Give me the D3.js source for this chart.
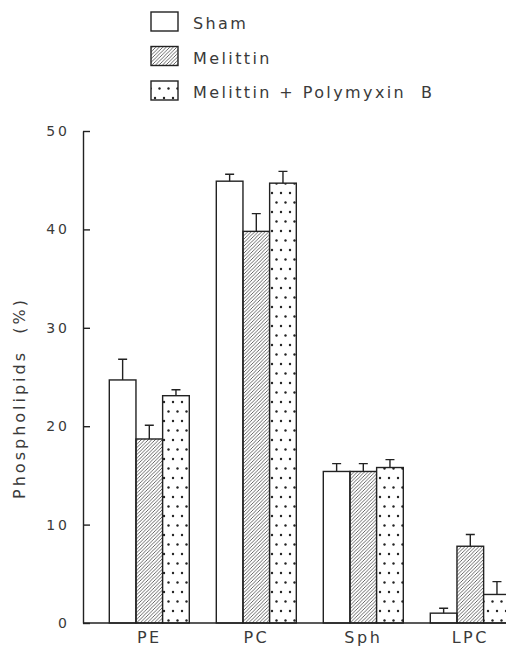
<!DOCTYPE html>
<html>
<head>
<meta charset="utf-8">
<script src="https://cdn.jsdelivr.net/npm/d3@7"></script>
<style>
  body { margin: 0; background: #fff; }
  svg text { font-family: "DejaVu Sans", sans-serif; fill: #3a3a3a; }
</style>
</head>
<body>
<div id="chart"></div>
<script>
// Data
var categories = ["PE", "PC", "Sph", "LPC"];
var seriesNames = ["Sham", "Melittin", "Melittin + Polymyxin  B"];
var shamValues = [24.7, 44.9, 15.4, 1.0];
var shamErrors = [2.1, 0.7, 0.8, 0.5];
var melittinValues = [18.7, 39.8, 15.4, 7.8];
var melittinErrors = [1.4, 1.8, 0.8, 1.2];
var polymyxinValues = [23.1, 44.7, 15.8, 2.9];
var polymyxinErrors = [0.6, 1.2, 0.8, 1.3];
var yTicks = [0, 10, 20, 30, 40, 50];

var seriesValues = [shamValues, melittinValues, polymyxinValues];
var seriesErrors = [shamErrors, melittinErrors, polymyxinErrors];
var fills = ["#fff", "url(#hatch)", "url(#dots)"];

const width = 506;
const height = 647;

d3.select("#chart").selectAll("*").remove();

var svg = d3.select("#chart").append("svg")
    .attr("width", width)
    .attr("height", height);

// Patterns for the bar fills
var defs = svg.append("defs");
defs.append("pattern")
    .attr("id", "hatch")
    .attr("patternUnits", "userSpaceOnUse")
    .attr("width", 3.5).attr("height", 3.5)
    .append("path")
    .attr("d", "M-1,1 l2,-2 M0,3.5 l3.5,-3.5 M2.5,4.5 l2,-2")
    .attr("stroke", "#444")
    .attr("stroke-width", 0.8);

var dots = defs.append("pattern")
    .attr("id", "dots")
    .attr("patternUnits", "userSpaceOnUse")
    .attr("width", 9).attr("height", 19);
dots.append("rect").attr("width", 9).attr("height", 19).attr("fill", "#fff");
dots.append("circle").attr("cx", 2).attr("cy", 3).attr("r", 1.2).attr("fill", "#222");
dots.append("circle").attr("cx", 6.5).attr("cy", 12.5).attr("r", 1.2).attr("fill", "#222");

// Scales
const y = d3.scaleLinear()
    .domain([0, 50])
    .range([623, 131]);

const x = d3.scaleBand()
    .domain(categories)
    .range([95.8, 523.8])
    .padding(0);

const groupWidth = 80;
const xs = d3.scaleBand()
    .domain(d3.range(seriesNames.length))
    .range([0, groupWidth]);
const groupOffset = (x.bandwidth() - groupWidth) / 2;

// Bars
seriesValues.forEach(function (vals, s) {
    var g = svg.append("g");
    g.selectAll("rect")
        .data(vals)
        .enter().append("rect")
        .attr("x", function (d, i) { return x(categories[i]) + groupOffset + xs(s); })
        .attr("y", function (d) { return y(d); })
        .attr("width", xs.bandwidth())
        .attr("height", function (d) { return y(0) - y(d); })
        .attr("fill", fills[s])
        .attr("stroke", "#222")
        .attr("stroke-width", 1.4);

    // error bars (upper only)
    var errs = seriesErrors[s];
    g.selectAll("path.err")
        .data(vals)
        .enter().append("path")
        .attr("class", "err")
        .attr("d", function (d, i) {
            var cx = x(categories[i]) + groupOffset + xs(s) + xs.bandwidth() / 2;
            var top = y(d + errs[i]);
            return "M" + cx + "," + y(d) + "V" + top + "M" + (cx - 4.5) + "," + top + "H" + (cx + 4.5);
        })
        .attr("fill", "none")
        .attr("stroke", "#222")
        .attr("stroke-width", 1.4);
});

// Y axis, ticks pointing inward
var yAxis = svg.append("g")
    .attr("transform", "translate(83,0)")
    .call(d3.axisLeft(y).tickValues(yTicks).tickSizeInner(-7).tickSizeOuter(0).tickPadding(13));
yAxis.select(".domain").attr("stroke", "#222").attr("stroke-width", 1.4);
yAxis.selectAll(".tick line").attr("stroke", "#222").attr("stroke-width", 1.4);
yAxis.selectAll("text")
    .style("font-size", "14px")
    .style("letter-spacing", "3px")
    .attr("fill", "#3a3a3a");

// X axis baseline
svg.append("line")
    .attr("x1", 83).attr("x2", width)
    .attr("y1", y(0)).attr("y2", y(0))
    .attr("stroke", "#222")
    .attr("stroke-width", 1.4);

// Category labels
svg.selectAll("text.cat")
    .data(categories)
    .enter().append("text")
    .attr("class", "cat")
    .attr("x", function (d) { return x(d) + x.bandwidth() / 2; })
    .attr("y", 643)
    .attr("text-anchor", "middle")
    .style("font-size", "16px")
    .style("letter-spacing", "2.5px")
    .text(function (d) { return d; });

// Y axis label
svg.append("text")
    .attr("transform", "rotate(-90)")
    .attr("x", -398)
    .attr("y", 25)
    .attr("text-anchor", "middle")
    .style("font-size", "16px")
    .style("letter-spacing", "3px")
    .style("white-space", "pre")
    .text("Phospholipids  (%)");

// Legend
var legend = svg.append("g");
seriesNames.forEach(function (name, s) {
    var top = 12 + s * 34.5;
    legend.append("rect")
        .attr("x", 151).attr("y", top)
        .attr("width", 27).attr("height", 19)
        .attr("fill", fills[s])
        .attr("stroke", "#222")
        .attr("stroke-width", 1.4);
    legend.append("text")
        .attr("x", 193)
        .attr("y", top + 17)
        .style("font-size", "16px")
        .style("letter-spacing", "2.4px")
        .style("white-space", "pre")
        .text(name);
});
</script>
</body>
</html>
